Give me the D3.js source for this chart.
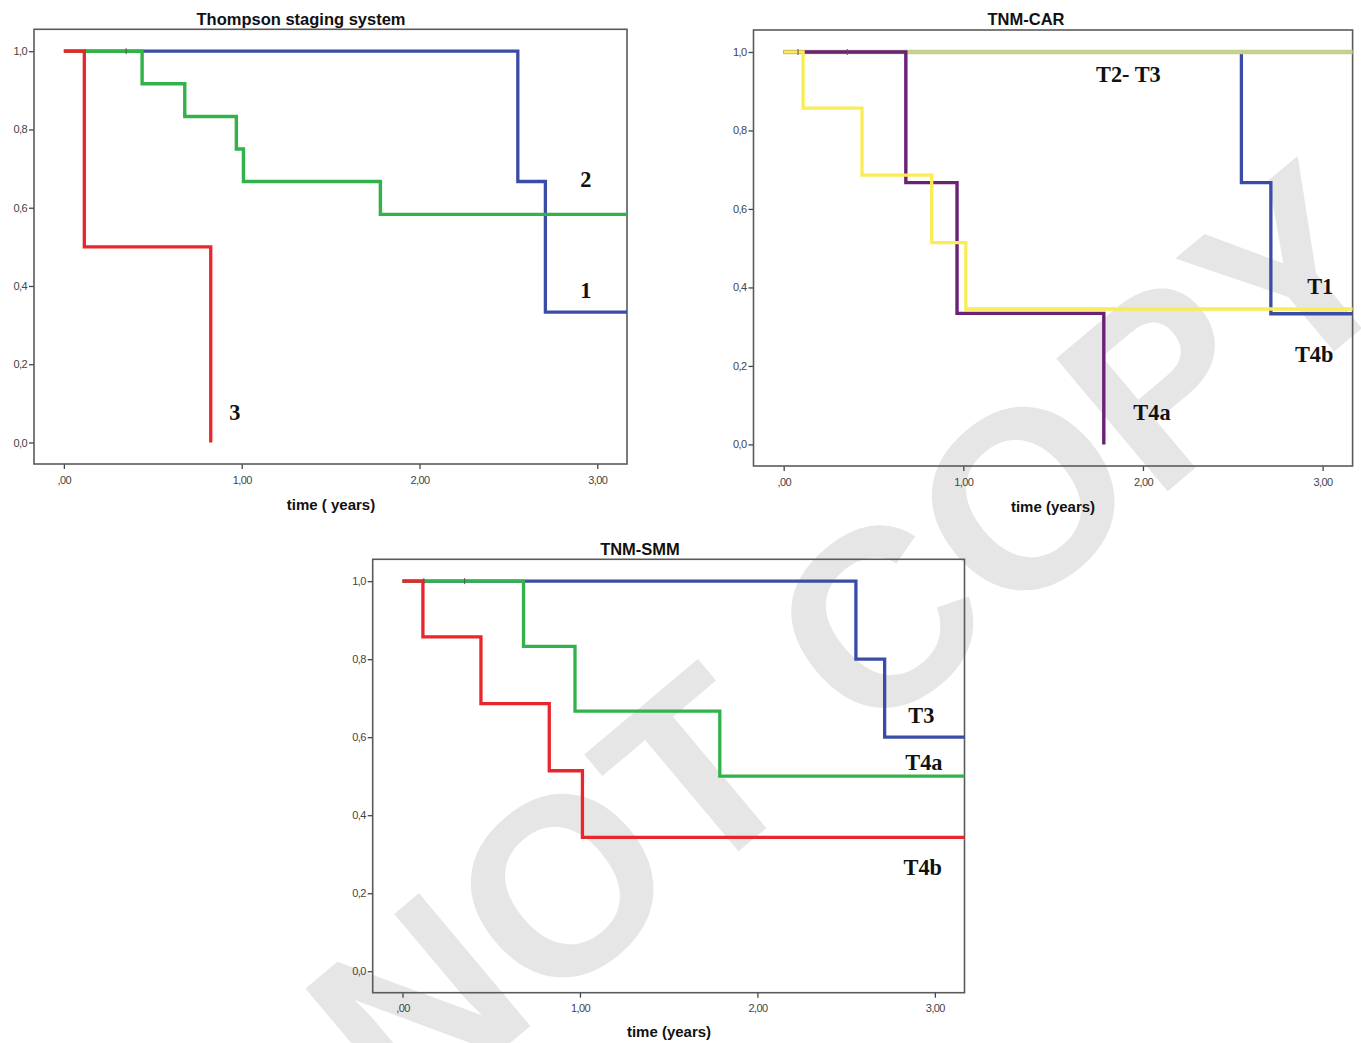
<!DOCTYPE html>
<html>
<head>
<meta charset="utf-8">
<script src="https://cdn.jsdelivr.net/npm/d3@7"></script>
<style>
  html, body { margin: 0; padding: 0; background: #ffffff; }
  svg { display: block; }
</style>
</head>
<body>
<svg id="chart" width="1361" height="1043"></svg>
<script>
// ---------- data ----------
const xTickValues = [0, 1, 2, 3];
const xTickLabels = [",00", "1,00", "2,00", "3,00"];
const yTickValues = [0, 0.2, 0.4, 0.6, 0.8, 1.0];
const yTickLabels = ["0,0", "0,2", "0,4", "0,6", "0,8", "1,0"];

const panelTitles = ["Thompson staging system", "TNM-CAR", "TNM-SMM"];
const axisTitles = ["time ( years)", "time (years)", "time (years)"];

// Thompson staging system
const thompson1Times = [0, 2.553, 2.708];
const thompson1Surv  = [1, 0.667, 0.333];
const thompson2Times = [0, 0.44, 0.68, 0.97, 1.01, 1.78];
const thompson2Surv  = [1, 0.917, 0.833, 0.75, 0.667, 0.583];
const thompson3Times = [0, 0.115, 0.826];
const thompson3Surv  = [1, 0.5, 0];

// TNM-CAR
const carT1Times   = [0, 2.548, 2.712];
const carT1Surv    = [1, 0.667, 0.333];
const carT23Times  = [0];
const carT23Surv   = [1];
const carT4aTimes  = [0, 0.68, 0.965, 1.782];
const carT4aSurv   = [1, 0.667, 0.334, 0];
const carT4bTimes  = [0, 0.108, 0.436, 0.824, 1.014];
const carT4bSurv   = [1, 0.857, 0.686, 0.514, 0.345];

// TNM-SMM
const smmT3Times  = [0, 2.555, 2.717];
const smmT3Surv   = [1, 0.8, 0.6];
const smmT4aTimes = [0, 0.682, 0.972, 1.788];
const smmT4aSurv  = [1, 0.833, 0.667, 0.5];
const smmT4bTimes = [0, 0.115, 0.442, 0.827, 1.014];
const smmT4bSurv  = [1, 0.857, 0.686, 0.514, 0.343];

// curve label texts and anchor positions (years, survival)
const thompsonLabels = ["2", "1", "3"];
const thompsonLabelX = [2.936, 2.936, 0.962];
const thompsonLabelY = [0.653, 0.37, 0.058];
const carLabels = ["T2- T3", "T1", "T4b", "T4a"];
const carLabelX = [1.919, 2.987, 2.953, 2.05];
const carLabelY = [0.923, 0.383, 0.21, 0.062];
const smmLabels = ["T3", "T4a", "T4b"];
const smmLabelX = [2.924, 2.938, 2.932];
const smmLabelY = [0.636, 0.515, 0.246];

// censoring marks (years, survival)
const thompsonCensorX = [0.35];
const thompsonCensorY = [1];
const carCensorX = [0.08, 0.354];
const carCensorY = [1, 1];
const smmCensorX = [0.12, 0.35];
const smmCensorY = [1, 1];

const watermarkText = "NOT COPY";

// ---------- styling / layout ----------
const COLORS = {
  red: "#e8262c", green: "#31b24a", blue: "#3a4ca6",
  purple: "#6a2176", yellow: "#f9ec55", olive: "#c7d08d"
};
const xDomain = [-0.168, 3.167];
const yDomain = [-0.055, 1.056];

const panels = [
  { frame: { l: 34, r: 627, t: 29.3, b: 464 }, titleX: 301, titleY: 24.5, axisTitleY: 510, axisTitleX: 331,
    series: [
      { t: thompson1Times, s: thompson1Surv, c: COLORS.blue, w: 3.3, toEnd: true },
      { t: thompson2Times, s: thompson2Surv, c: COLORS.green, w: 3.4, toEnd: true },
      { t: thompson3Times, s: thompson3Surv, c: COLORS.red, w: 3.3, toEnd: false }
    ],
    labels: thompsonLabels, lx: thompsonLabelX, ly: thompsonLabelY,
    cx: thompsonCensorX, cy: thompsonCensorY },
  { frame: { l: 753.5, r: 1352.6, t: 30, b: 466 }, titleX: 1026, titleY: 24.5, axisTitleY: 512, axisTitleX: 1053,
    series: [
      { t: carT1Times, s: carT1Surv, c: COLORS.blue, w: 3.3, toEnd: true },
      { t: carT23Times, s: carT23Surv, c: COLORS.olive, w: 4.6, toEnd: true },
      { t: carT4aTimes, s: carT4aSurv, c: COLORS.purple, w: 3.4, toEnd: false },
      { t: carT4bTimes, s: carT4bSurv, c: COLORS.yellow, w: 3.3, toEnd: true }
    ],
    labels: carLabels, lx: carLabelX, ly: carLabelY,
    cx: carCensorX, cy: carCensorY },
  { frame: { l: 372.7, r: 964.5, t: 559.3, b: 992.7 }, titleX: 640, titleY: 554.5, axisTitleY: 1037, axisTitleX: 669,
    series: [
      { t: smmT3Times, s: smmT3Surv, c: COLORS.blue, w: 3.3, toEnd: true },
      { t: smmT4aTimes, s: smmT4aSurv, c: COLORS.green, w: 3.3, toEnd: true },
      { t: smmT4bTimes, s: smmT4bSurv, c: COLORS.red, w: 3.3, toEnd: true }
    ],
    labels: smmLabels, lx: smmLabelX, ly: smmLabelY,
    cx: smmCensorX, cy: smmCensorY }
];

const svg = d3.select("#chart");
svg.append("rect").attr("width", 1361).attr("height", 1043).attr("fill", "#ffffff");

// watermark (behind everything)
svg.append("text")
  .attr("transform", "translate(404,1132) rotate(-40)")
  .attr("font-family", "'Liberation Sans', Arial, sans-serif")
  .attr("font-weight", "bold")
  .attr("font-size", 252)
  .attr("fill", "#e6e6e6")
  .text(watermarkText);

panels.forEach((p, i) => {
  const f = p.frame;
  const x = d3.scaleLinear().domain(xDomain).range([f.l, f.r]);
  const y = d3.scaleLinear().domain(yDomain).range([f.b, f.t]);
  const g = svg.append("g");

  // title
  g.append("text")
    .attr("x", p.titleX).attr("y", p.titleY)
    .attr("text-anchor", "middle")
    .attr("font-family", "'Liberation Sans', Arial, sans-serif")
    .attr("font-weight", "bold").attr("font-size", 16.5).attr("fill", "#111")
    .text(panelTitles[i]);

  // axes
  const yAxis = d3.axisLeft(y).tickValues(yTickValues)
    .tickFormat((d, k) => yTickLabels[k]).tickSize(5).tickPadding(2);
  const xAxis = d3.axisBottom(x).tickValues(xTickValues)
    .tickFormat((d, k) => xTickLabels[k]).tickSize(5).tickPadding(7);

  const ya = g.append("g").attr("transform", `translate(${f.l},0)`).call(yAxis);
  const xa = g.append("g").attr("transform", `translate(0,${f.b})`).call(xAxis);
  [ya, xa].forEach(a => {
    a.select(".domain").remove();
    a.selectAll(".tick line").attr("stroke", "#444").attr("stroke-width", 1.3);
    a.selectAll(".tick text")
      .attr("font-family", "'Liberation Sans', Arial, sans-serif")
      .attr("font-size", 11).attr("fill", "#444")
      .attr("letter-spacing", "-0.6px");
  });

  // frame
  g.append("rect")
    .attr("x", f.l).attr("y", f.t)
    .attr("width", f.r - f.l).attr("height", f.b - f.t)
    .attr("fill", "none").attr("stroke", "#5a5a5a").attr("stroke-width", 1.6);

  // axis title
  g.append("text")
    .attr("x", p.axisTitleX).attr("y", p.axisTitleY)
    .attr("text-anchor", "middle")
    .attr("font-family", "'Liberation Sans', Arial, sans-serif")
    .attr("font-weight", "bold").attr("font-size", 15).attr("fill", "#111")
    .text(axisTitles[i]);

  // curves
  const line = d3.line().x(d => x(d[0])).y(d => y(d[1])).curve(d3.curveStepAfter);
  p.series.forEach(s => {
    const pts = s.t.map((t, k) => [t, s.s[k]]);
    if (s.toEnd) pts.push([xDomain[1], s.s[s.s.length - 1]]);
    g.append("path").datum(pts)
      .attr("d", line)
      .attr("fill", "none")
      .attr("stroke", s.c)
      .attr("stroke-width", s.w)
      .attr("stroke-linejoin", "miter")
      .attr("stroke-linecap", "butt");
  });

  // censor marks
  p.cx.forEach((cxv, k) => {
    g.append("line")
      .attr("x1", x(cxv)).attr("x2", x(cxv))
      .attr("y1", y(p.cy[k]) - 3).attr("y2", y(p.cy[k]) + 3)
      .attr("stroke", "#555").attr("stroke-width", 1);
  });

  // curve labels (slightly condensed like the reference)
  p.labels.forEach((lab, k) => {
    g.append("text")
      .attr("transform", `translate(${x(p.lx[k])},${y(p.ly[k])}) scale(0.93,1)`)
      .attr("text-anchor", "middle")
      .attr("font-family", "'Liberation Serif', 'Times New Roman', serif")
      .attr("font-weight", "bold").attr("font-size", 24).attr("fill", "#111")
      .text(lab);
  });
});
</script>
</body>
</html>
